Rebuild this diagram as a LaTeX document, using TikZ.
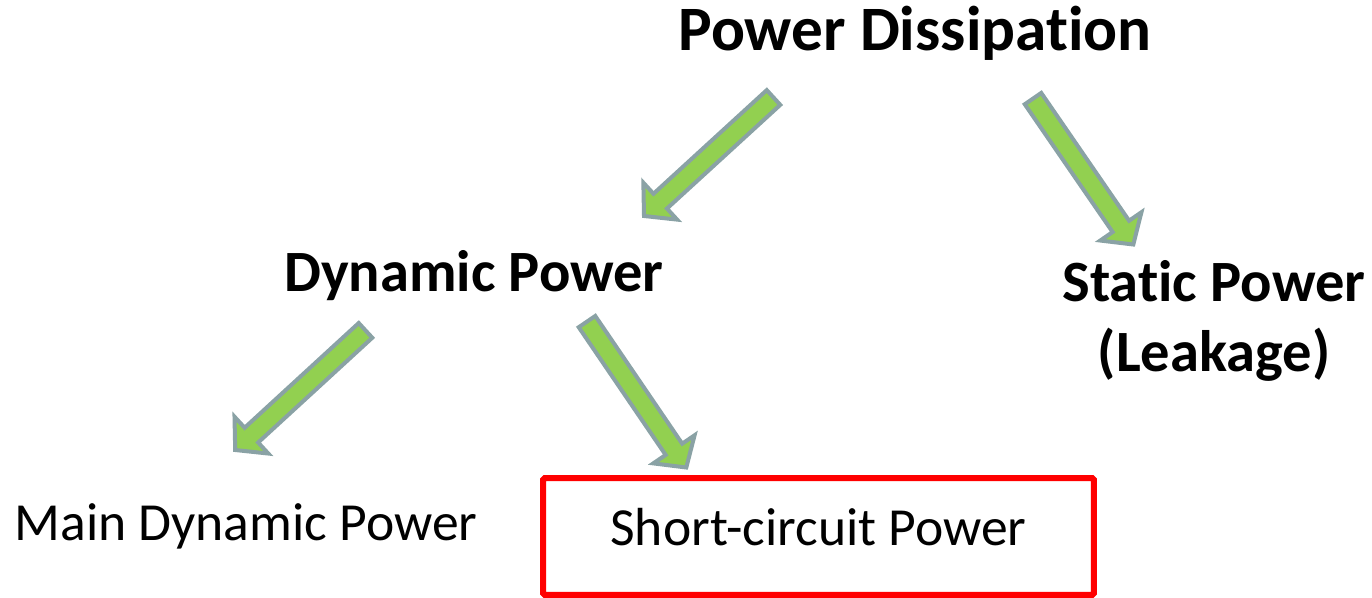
\documentclass[tikz,border=0pt]{standalone}
\usepackage{fontspec}
\setmainfont[Ligatures=NoCommon]{Carlito}
\usetikzlibrary{calc}

\definecolor{arrowgreen}{RGB}{146,208,80}
\definecolor{arrowgray}{RGB}{138,162,165}
\definecolor{boxred}{RGB}{255,0,0}

\begin{document}
\begin{tikzpicture}[
  x=0.02cm, y=-0.02cm,
  title/.style    = {font=\fontsize{36}{43}\selectfont\bfseries, inner sep=0pt},
  head/.style     = {font=\fontsize{33.3}{39.5}\selectfont\bfseries, inner sep=0pt},
  leaf/.style     = {font=\fontsize{30.5}{36}\selectfont, inner sep=0pt},
  hilite/.style   = {draw=boxred, line width=0.12cm, rounded corners=1pt,
                     minimum width=11.02cm, minimum height=2.34cm,
                     text height=24pt, text depth=14pt,
                     font=\fontsize{30.5}{36}\selectfont},
  fatarrow/.style = {draw=arrowgray, fill=arrowgreen, line width=0.08cm, line join=miter,
                     to path={
                       -- ($(\tikztostart)!0.2cm!90:(\tikztotarget)$)
                       -- ($($(\tikztotarget)!0.44cm!(\tikztostart)$)!0.2cm!-90:(\tikztostart)$)
                       -- ($($(\tikztotarget)!0.44cm!(\tikztostart)$)!0.5cm!-90:(\tikztostart)$)
                       -- (\tikztotarget)
                       -- ($($(\tikztotarget)!0.44cm!(\tikztostart)$)!0.5cm!90:(\tikztostart)$)
                       -- ($($(\tikztotarget)!0.44cm!(\tikztostart)$)!0.2cm!90:(\tikztostart)$)
                       -- ($(\tikztostart)!0.2cm!-90:(\tikztotarget)$)
                       -- cycle}},
]
\useasboundingbox (0,0) rectangle (1372,598);

% --- labels -------------------------------------------------------------
\node[title, anchor=base] (pd) at (915,51) {Power Dissipation};
\node[head, anchor=base] (dp) at (474,291) {Dynamic Power};
\node[head, align=center] (sp) at (1214,321) {Static Power\\(Leakage)};
\node[leaf, anchor=base] (mdp) at (246,540) {Main Dynamic Power};
\node[hilite] (scp) at (818.5,536.5) {Short-circuit Power};

% --- arrow ends -----------------------------------------------------------
\coordinate (pd-l) at (773.5,97.5);  \coordinate (dp-in) at (644,216);
\coordinate (pd-r) at (1033,98.6);   \coordinate (sp-in) at (1133.3,244.5);
\coordinate (dp-l) at (365.5,330.4); \coordinate (mdp-in) at (235.2,450);
\coordinate (dp-r) at (587,321.6);   \coordinate (scp-in) at (686.3,467.5);

% --- block arrows -------------------------------------------------------
\draw[fatarrow] (pd-l) to (dp-in);
\draw[fatarrow] (pd-r) to (sp-in);
\draw[fatarrow] (dp-l) to (mdp-in);
\draw[fatarrow] (dp-r) to (scp-in);

\end{tikzpicture}
\end{document}
